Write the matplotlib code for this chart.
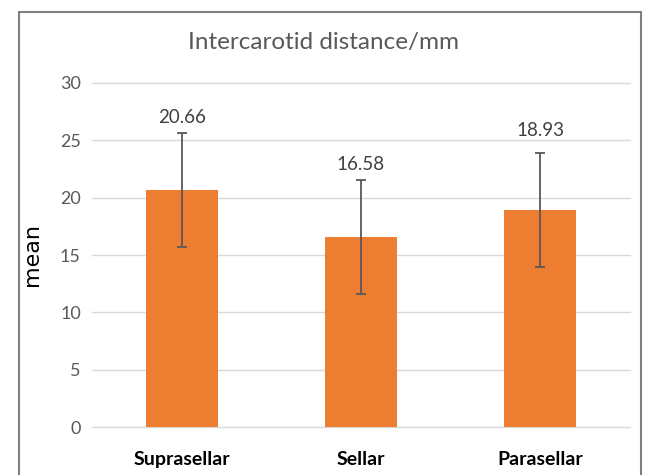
import matplotlib
matplotlib.use("Agg")
import matplotlib.pyplot as plt
from matplotlib.patches import Rectangle

categories = ["Suprasellar", "Sellar", "Parasellar"]
means = [20.66, 16.58, 18.93]
errors = [5.0, 4.95, 4.98]
value_labels = ["20.66", "16.58", "18.93"]
yticks = [0, 5, 10, 15, 20, 25, 30]

FONT = ['Lato', 'DejaVu Sans']
plt.rcParams['font.family'] = FONT

fig = plt.figure(figsize=(6.47, 4.75), dpi=100)
ax = fig.add_axes([92/647, 48/475, 538/647, 344/475])

x = list(range(len(categories)))
ax.bar(x, means, width=0.4, color='#ED7D31', zorder=2)
ax.errorbar(x, means, yerr=errors, fmt='none', ecolor='#595959',
            elinewidth=1.3, capsize=3.5, capthick=1.3, zorder=3)

label_pad = [5, 5, 10]
for xi, m, e, lab, p in zip(x, means, errors, value_labels, label_pad):
    ax.annotate(lab, (xi, m + e), xytext=(0, p), textcoords='offset points',
                ha='center', va='bottom', fontsize=13.5, color='#404040')

ax.set_xlim(-0.5, 2.5)
ax.set_ylim(0, 30)
ax.set_yticks(yticks)
ax.set_yticklabels([str(t) for t in yticks])
ax.set_xticks(x)
ax.set_xticklabels(categories, fontsize=14, fontweight='bold', color='black')
ax.tick_params(axis='y', length=0, pad=8, labelsize=13, labelcolor='#595959')
ax.tick_params(axis='x', length=0, pad=17)
ax.yaxis.grid(True, color='#d9d9d9', linewidth=1.0, zorder=0)
for gl in ax.get_ygridlines():
    gl.set_clip_on(False)
ax.set_axisbelow(True)
for s in ax.spines.values():
    s.set_visible(False)

ax.set_ylabel('mean', fontsize=16, family='DejaVu Sans', color='black')
ax.yaxis.set_label_coords(-(92 - 42) / 538, 0.5)

fig.text(323/647, 1 - 42/475, 'Intercarotid distance/mm',
         ha='center', va='center', fontsize=17.5, color='#595959')

fig.add_artist(Rectangle((19/647, -0.02), (641-19)/647, 0.02 + 1 - 12/475,
                         transform=fig.transFigure, fill=False,
                         edgecolor='#7f7f7f', linewidth=1.5))

fig.savefig('out.png', dpi=100)
